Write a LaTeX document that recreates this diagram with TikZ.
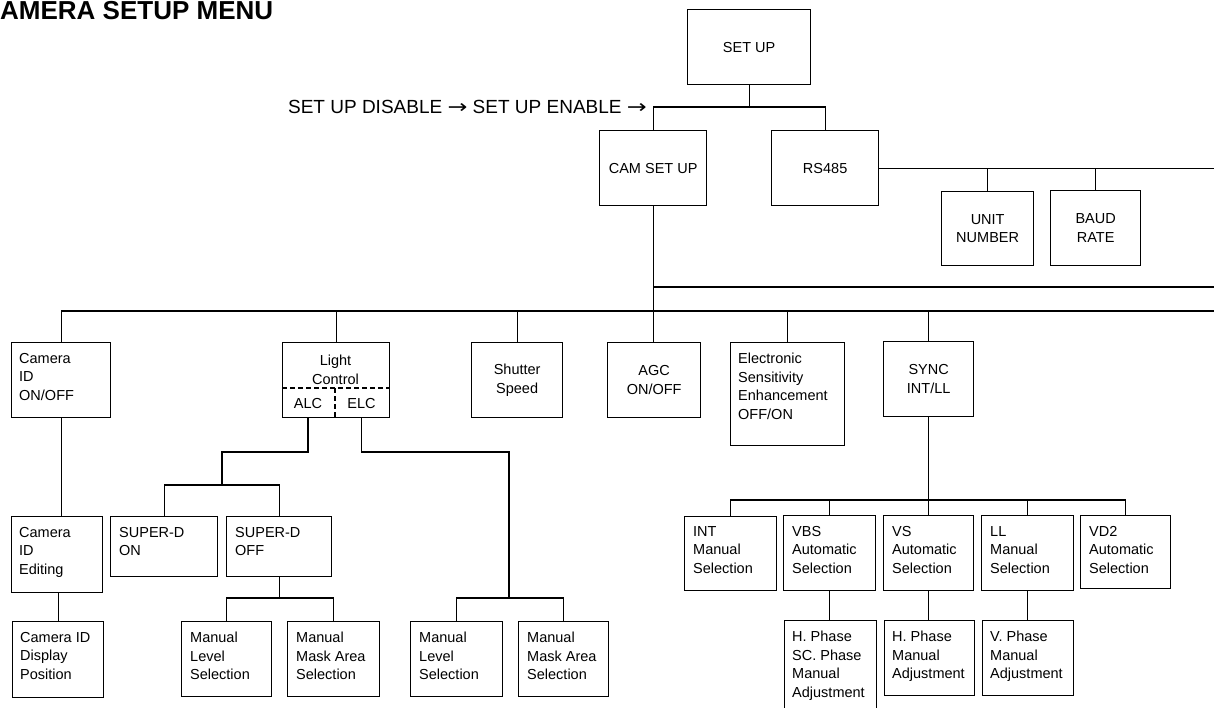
\documentclass[tikz,border=0pt]{standalone}
\usepackage{graphicx}
\usepackage{fontspec}
\setmainfont{Liberation Sans}
\newfontfamily\arrowfont{DejaVu Sans}
\newcommand\myarr{\scalebox{1.25}[1]{\arrowfont →}}
\begin{document}
\begin{tikzpicture}[x=1pt,y=-1pt,
  every node/.style={font=\fontsize{14.5}{18.5}\selectfont},
  box/.style={draw, line width=1.3pt, inner sep=0pt, anchor=north west, align=center},
  lbl/.style={inner sep=0pt, anchor=north west, align=left},
  ln/.style={line width=1.3pt},
  dsh/.style={line width=1.3pt, dash pattern=on 5pt off 3pt}]
\useasboundingbox (0,0) rectangle (1214,707);
\clip (0,0) rectangle (1214,707);
% titles
\node[anchor=base west, inner sep=0pt, font=\bfseries\fontsize{26}{30}\selectfont] (title) at (0,19.5) {AMERA SETUP MENU};
\node[anchor=base east, inner sep=0pt, font=\fontsize{19}{22}\selectfont] (sub) at (647,113) {SET UP DISABLE \myarr\ SET UP ENABLE \myarr};
% top level
\node[box, minimum width=123pt, minimum height=75pt] (setup) at (687,9) {SET UP};
\node[box, minimum width=107pt, minimum height=75pt] (camsetup) at (599,130) {CAM SET UP};
\node[box, minimum width=107pt, minimum height=75pt] (rs485) at (771,130) {RS485};
\node[box, minimum width=92pt, minimum height=74pt] (unitnum) at (941,191) {UNIT\\NUMBER};
\node[box, minimum width=90pt, minimum height=75pt] (baud) at (1050,190) {BAUD\\RATE};
% second row
\node[box, minimum width=99pt, minimum height=75pt] (cid) at (11,342) {};
\node[lbl] at ([shift={(8,11)}]cid.north west) {Camera\\ID\\ON/OFF};
\node[box, minimum width=107pt, minimum height=75pt] (light) at (282,342) {};
\node[inner sep=0pt, align=center] (lighttxt) at (335.5,370) {Light\\Control};
\coordinate (dl) at (282,388);
\coordinate (dm) at (335,388);
\draw[dsh] (light.west |- dl) -- (light.east |- dl);
\draw[dsh] (dm) -- (dm |- light.south);
\node[inner sep=0pt] (alc) at (308,404) {ALC};
\node[inner sep=0pt] (elc) at (361.5,404) {ELC};
\node[box, minimum width=91pt, minimum height=75pt] (shutter) at (471,342) {Shutter\\Speed};
\node[box, minimum width=93pt, minimum height=75pt] (agc) at (607,342) {AGC\\ON/OFF};
\node[box, minimum width=114pt, minimum height=103pt] (esens) at (730,342) {};
\node[lbl] at ([shift={(8,11)}]esens.north west) {Electronic\\Sensitivity\\Enhancement\\OFF/ON};
\node[box, minimum width=90pt, minimum height=75pt] (sync) at (883,341) {SYNC\\INT/LL};
% camera id column
\node[box, minimum width=91pt, minimum height=76pt] (cidedit) at (11,516) {};
\node[lbl] at ([shift={(8,11)}]cidedit.north west) {Camera\\ID\\Editing};
\node[box, minimum width=91pt, minimum height=76pt] (ciddisp) at (12,621) {};
\node[lbl] at ([shift={(8,11)}]ciddisp.north west) {Camera ID\\Display\\Position};
% ALC branch
\node[box, minimum width=107pt, minimum height=60pt] (sdon) at (110,516) {};
\node[lbl] at ([shift={(9,11)}]sdon.north west) {SUPER-D\\ON};
\node[box, minimum width=105pt, minimum height=60pt] (sdoff) at (226,516) {};
\node[lbl] at ([shift={(9,11)}]sdoff.north west) {SUPER-D\\OFF};
\node[box, minimum width=90pt, minimum height=75pt] (mla) at (181,621) {};
\node[lbl] at ([shift={(9,11)}]mla.north west) {Manual\\Level\\Selection};
\node[box, minimum width=92pt, minimum height=75pt] (mma) at (287,621) {};
\node[lbl] at ([shift={(9,11)}]mma.north west) {Manual\\Mask Area\\Selection};
% ELC branch
\node[box, minimum width=92pt, minimum height=75pt] (mlb) at (410,621) {};
\node[lbl] at ([shift={(9,11)}]mlb.north west) {Manual\\Level\\Selection};
\node[box, minimum width=90pt, minimum height=75pt] (mmb) at (518,621) {};
\node[lbl] at ([shift={(9,11)}]mmb.north west) {Manual\\Mask Area\\Selection};
% sync branch
\node[box, minimum width=92pt, minimum height=74pt] (int) at (684,516) {};
\node[lbl] at ([shift={(9,10)}]int.north west) {INT\\Manual\\Selection};
\node[box, minimum width=92pt, minimum height=75pt] (vbs) at (783,515) {};
\node[lbl] at ([shift={(9,11)}]vbs.north west) {VBS\\Automatic\\Selection};
\node[box, minimum width=90pt, minimum height=75pt] (vs) at (883,515) {};
\node[lbl] at ([shift={(9,11)}]vs.north west) {VS\\Automatic\\Selection};
\node[box, minimum width=92pt, minimum height=75pt] (ll) at (981,515) {};
\node[lbl] at ([shift={(9,11)}]ll.north west) {LL\\Manual\\Selection};
\node[box, minimum width=90pt, minimum height=73pt] (vd2) at (1080,515) {};
\node[lbl] at ([shift={(9,11)}]vd2.north west) {VD2\\Automatic\\Selection};
\node[box, minimum width=92pt, minimum height=100pt] (hsc) at (784,620) {};
\node[lbl] at ([shift={(8,11)}]hsc.north west) {H. Phase\\SC. Phase\\Manual\\Adjustment};
\node[box, minimum width=90pt, minimum height=75pt] (hpm) at (884,620) {};
\node[lbl] at ([shift={(8,11)}]hpm.north west) {H. Phase\\Manual\\Adjustment};
\node[box, minimum width=91pt, minimum height=75pt] (vpm) at (982,620) {};
\node[lbl] at ([shift={(8,11)}]vpm.north west) {V. Phase\\Manual\\Adjustment};
% junction coordinates
\coordinate (j1) at (748,107);
\coordinate (e1) at (1220,167);
\coordinate (r2) at (1220,287);
\coordinate (r3) at (1220,311);
\coordinate (ja) at (222,452);
\coordinate (jb) at (222,485);
\coordinate (jc) at (278,598);
\coordinate (jd) at (509,452);
\coordinate (je) at (509,598);
\coordinate (jf) at (927,500);
% connectors
\draw[ln] (setup.south) -- (setup.south |- j1);
\draw[ln] (camsetup.north) -- (camsetup.north |- j1) -- (rs485.north |- j1) -- (rs485.north);
\draw[ln] (rs485.east) -- (e1 |- rs485.east);
\draw[ln] (unitnum.north) -- (unitnum.north |- rs485.east);
\draw[ln] (baud.north) -- (baud.north |- rs485.east);
\draw[ln] (camsetup.south |- r2) -- (r2);
\draw[ln] (camsetup.south) -- (camsetup.south |- agc.north);
\draw[ln] (cid.north |- r3) -- (r3);
\foreach \n in {cid,light,shutter,esens,sync}
  \draw[ln] (\n.north) -- (\n.north |- r3);
\draw[ln] (cid.south) -- (cid.south |- cidedit.north);
\draw[ln] (ciddisp.north) -- (ciddisp.north |- cidedit.south);
\draw[ln] (alc |- light.south) |- (ja) -- (jb);
\draw[ln] (sdon.north) |- (jb) -| (sdoff.north);
\draw[ln] (sdoff.south) -- (sdoff.south |- jc);
\draw[ln] (mla.north) |- (jc) -| (mma.north);
\draw[ln] (elc |- light.south) |- (jd) -- (je);
\draw[ln] (mlb.north) |- (je) -| (mmb.north);
\draw[ln] (sync.south) -- (vs.north);
\draw[ln] (int.north) |- (jf) -| (vd2.north);
\draw[ln] (vbs.north) -- (vbs.north |- jf);
\draw[ln] (ll.north) -- (ll.north |- jf);
\draw[ln] (vbs.south) -- (vbs.south |- hsc.north);
\draw[ln] (vs.south) -- (vs.south |- hpm.north);
\draw[ln] (ll.south) -- (ll.south |- vpm.north);
\end{tikzpicture}
\end{document}
